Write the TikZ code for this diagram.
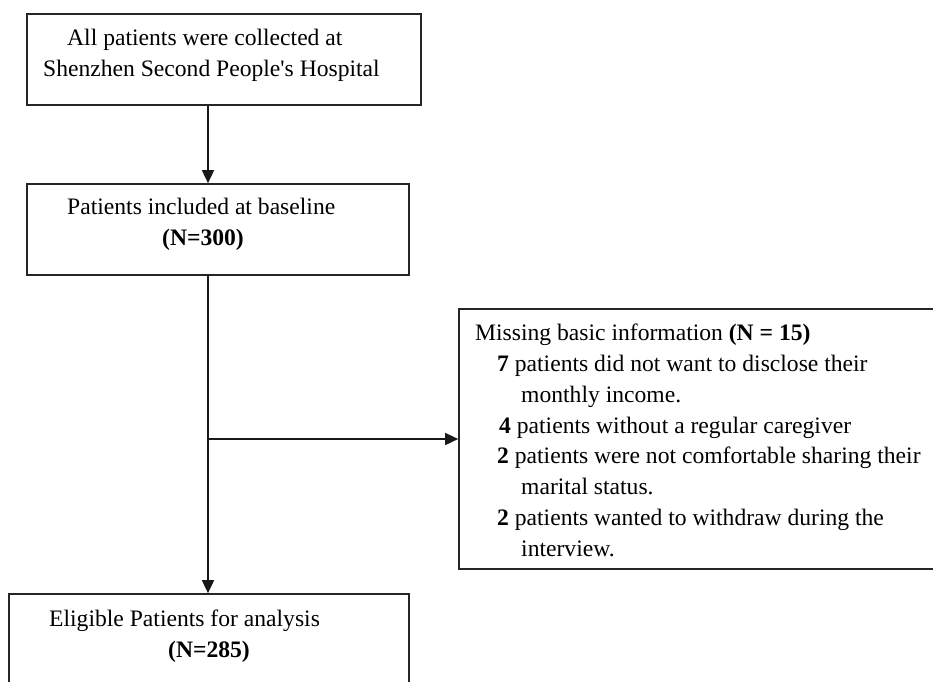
\documentclass[tikz,border=0pt]{standalone}
\usepackage{fontspec}
\setmainfont{Liberation Serif}[Ligatures=TeXOff]
\usetikzlibrary{arrows.meta}
\tikzset{
  box/.style={draw=black!85, line width=1.7pt, rectangle, inner sep=0pt},
  txt/.style={anchor=base west, inner sep=0pt, font=\fontsize{23.6}{30.8}\selectfont},
  arr/.style={draw=black!90, line width=1.7pt, -{Triangle[width=12pt,length=13pt]}},
  ln/.style={draw=black!85, line width=1.7pt}
}
\begin{document}
\begin{tikzpicture}[x=1pt,y=-1pt]
\useasboundingbox (0,0) rectangle (933,681);
\clip (0,0) rectangle (933,681);
\fill[white] (0,0) rectangle (933,681);
% boxes
\node[box, minimum width=394pt, minimum height=91pt] (b1) at (224,59.5) {};
\node[box, minimum width=382pt, minimum height=91pt] (b2) at (218,229.5) {};
\node[box, minimum width=400pt, minimum height=112pt] (b3) at (209,650) {};
\node[box, minimum width=491pt, minimum height=260pt] (miss) at (704.5,439) {};
\coordinate (spine) at (208,0);
% texts
\node[txt] (t1a) at (67,45) {All patients were collected at};
\node[txt] (t1b) at (43,76) {Shenzhen Second People's Hospital};
\node[txt] (t2a) at (67,214) {Patients included at baseline};
\node[txt] (t2b) at (162,245) {\textbf{(N=300)}};
\node[txt] (t3a) at (49,626) {Eligible Patients for analysis};
\node[txt] (t3b) at (168,657) {\textbf{(N=285)}};
\node[txt] (m1) at (475,340) {Missing basic information \textbf{(N = 15)}};
\node[txt] (m2) at (497,371) {\textbf{7} patients did not want to disclose their};
\node[txt] (m3) at (521,402) {monthly income.};
\node[txt] (m4) at (499,433) {\textbf{4} patients without a regular caregiver};
\node[txt] (m5) at (497,463) {\textbf{2} patients were not comfortable sharing their};
\node[txt] (m6) at (521,494) {marital status.};
\node[txt] (m7) at (497,525) {\textbf{2} patients wanted to withdraw during the};
\node[txt] (m8) at (521,556) {interview.};
% connectors
\draw[arr] (b1.south -| spine) -- (b2.north -| spine);
\draw[arr] (b2.south -| spine) -- (b3.north -| spine);
\draw[arr] (spine |- miss.west) -- (miss.west);
\end{tikzpicture}
\end{document}
